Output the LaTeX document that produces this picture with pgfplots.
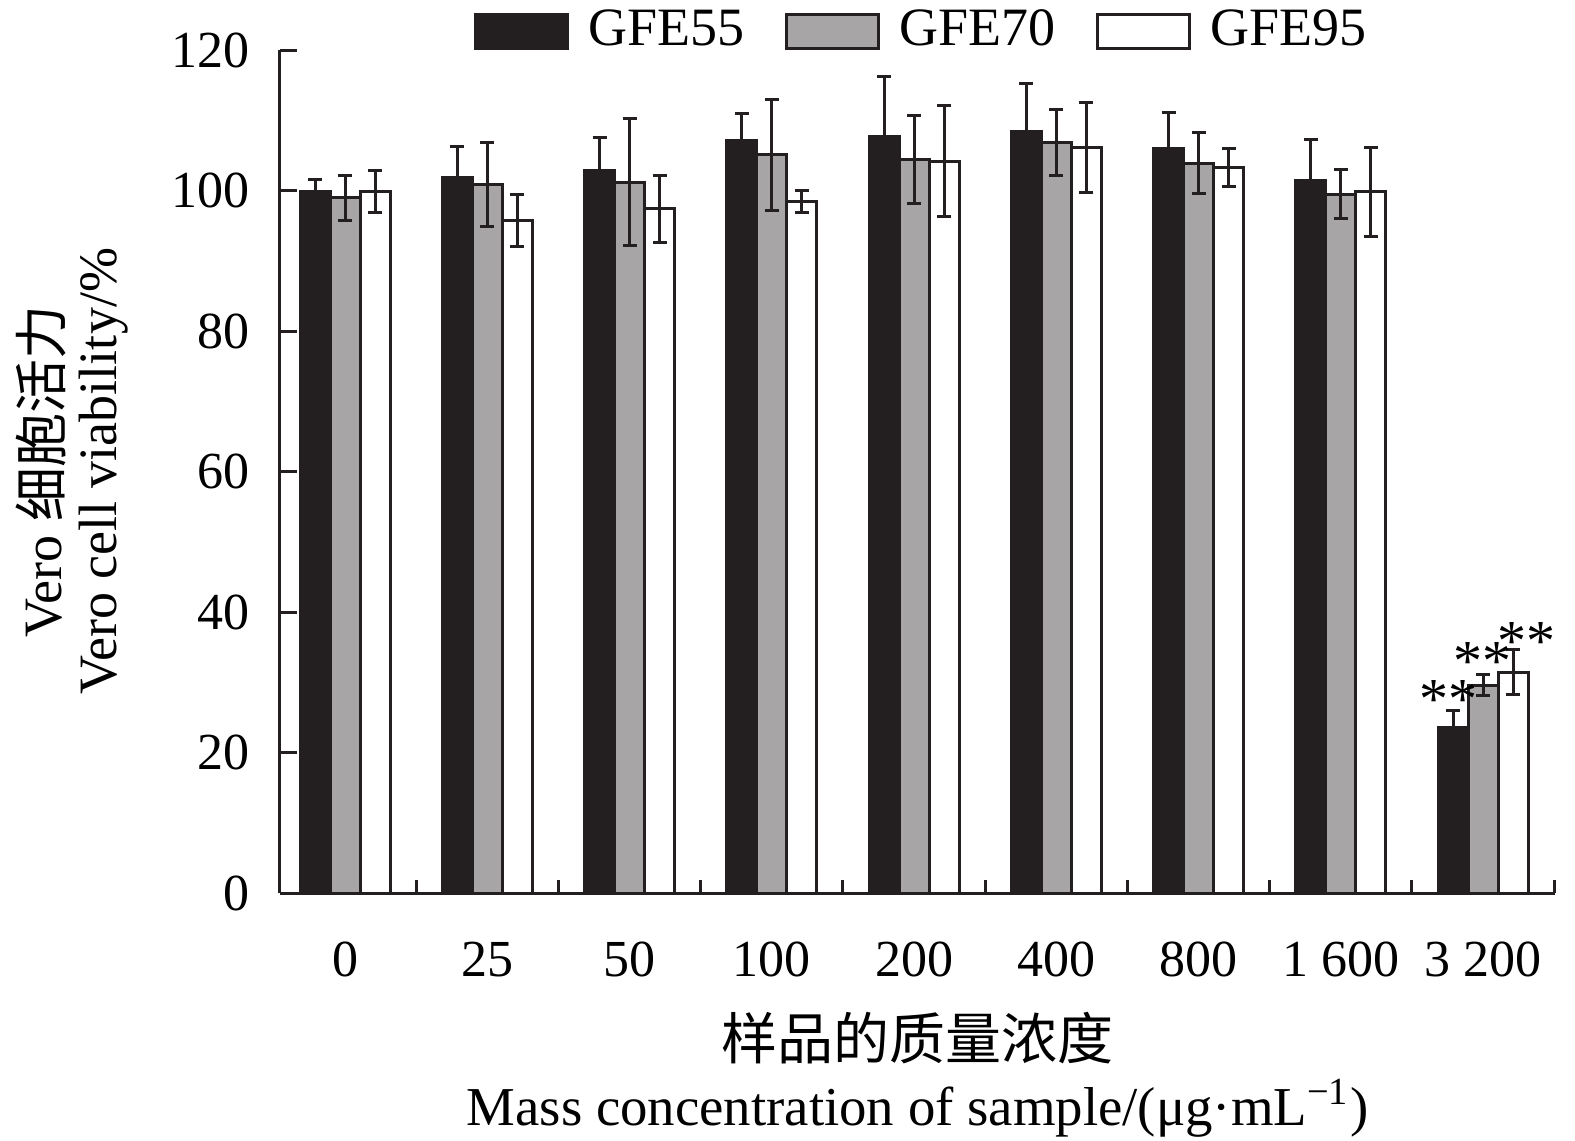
\documentclass[border=0pt]{standalone}
\usepackage{fontspec}
\setmainfont{Liberation Serif}
\newfontfamily\cjk{Noto Sans CJK SC}
\usepackage{pgfplots}
\pgfplotsset{compat=1.18}
\usepackage{pgfplotstable}
\definecolor{barblack}{HTML}{231F20}
\definecolor{bargray}{HTML}{A7A5A6}

\pgfplotstableread{
x y e
0 99.9 1.7
1 101.9 4.3
2 102.8 4.7
3 107.1 3.9
4 107.7 8.5
5 108.4 6.9
6 106.0 5.1
7 101.4 5.9
8 23.6 2.4
}\gfeA
\pgfplotstableread{
x y e
0 99.0 3.2
1 100.9 6.0
2 101.2 9.0
3 105.1 7.9
4 104.4 6.3
5 106.9 4.7
6 103.9 4.3
7 99.5 3.5
8 29.6 1.5
}\gfeB
\pgfplotstableread{
x y e
0 99.9 3.0
1 95.8 3.7
2 97.4 4.8
3 98.4 1.6
4 104.2 7.9
5 106.1 6.4
6 103.3 2.7
7 99.8 6.3
8 31.4 3.2
}\gfeC

\begin{document}
\begin{tikzpicture}
\pgfplotsset{
  mylegend/.style={legend image code/.code={\draw[##1,/tikz/.cd,line width=0.75pt] (0pt,-4.25pt) rectangle (23pt,4.25pt);}},
  myerr/.style={error bars/.cd, y dir=both, y explicit,
    error bar style={line width=0.75pt, barblack},
    error mark options={rotate=90, mark size=1.75pt, line width=0.75pt, barblack}},
}
\begin{axis}[
  at={(0,0)}, anchor=south west,
  width=318.75pt, height=210.75pt, scale only axis,
  xmin=-0.457, xmax=8.506, ymin=0, ymax=120,
  axis x line*=bottom, axis y line*=left,
  axis line style={-, line width=0.75pt, barblack},
  every outer x axis line/.append style={-},
  every outer y axis line/.append style={-},
  tick align=inside,
  ytick={0,20,...,120},
  major tick length=4.25pt,
  minor tick length=3.25pt,
  tick style={line width=0.75pt, barblack},
  xtick={0,1,2,3,4,5,6,7,8},
  xticklabels={0,25,50,100,200,400,800,1 600,3 200},
  major x tick style={draw=none},
  minor xtick={0.5,1.5,2.5,3.5,4.5,5.5,6.5,7.5,8.5},
  minor x tick style={draw=barblack, line width=0.75pt, yshift=3.25pt},
  /pgf/number format/assume math mode=true,
  tick label style={font=\fontsize{13}{15}\selectfont},
  xticklabel style={yshift=-4.5pt},
  yticklabel style={xshift=-4pt},
  ybar, bar width=7.5pt,
  xlabel={{\cjk\fontsize{14}{16}\selectfont 样品的质量浓度}\\Mass concentration of sample/(μg·mL\textsuperscript{−1})},
  xlabel style={at={(axis description cs:0.5,0)}, anchor=center, yshift=-45.5pt, align=center, font=\fontsize{13.7}{16.5}\selectfont},
  every axis y label/.style={at={(axis description cs:0,0.5)}, xshift=-52pt, rotate=90, anchor=center, align=center, font=\fontsize{13.5}{13.75}\selectfont},
  ylabel={Vero {\cjk 细胞活力}\\Vero cell viability/\%},
  legend columns=3,
  legend style={draw=none, fill=none, at={(axis description cs:0.5,1)}, anchor=center, xshift=1.75pt, yshift=4.75pt,
    font=\fontsize{13.5}{16}\selectfont,
    /tikz/every odd column/.append style={column sep=2.75pt},
    /tikz/every even column/.append style={column sep=8.25pt}},
]
\addplot[ybar, bar shift=-7.5pt, draw=barblack, fill=barblack, line width=0.75pt, mylegend, myerr] table[x=x, y=y, y error=e] {\gfeA};
\addplot[ybar, bar shift=0pt, draw=barblack, fill=bargray, line width=0.75pt, mylegend, myerr] table[x=x, y=y, y error=e] {\gfeB};
\addplot[ybar, bar shift=7.5pt, draw=barblack, fill=white, line width=0.75pt, mylegend, myerr] table[x=x, y=y, y error=e] {\gfeC};
\legend{GFE55,GFE70,GFE95}
\node[anchor=base, inner sep=0pt, font=\fontsize{14.5}{16}\selectfont] at (axis cs:7.755,24.9) {**};
\node[anchor=base, inner sep=0pt, font=\fontsize{14.5}{16}\selectfont] at (axis cs:7.995,30.2) {**};
\node[anchor=base, inner sep=0pt, font=\fontsize{14.5}{16}\selectfont] at (axis cs:8.305,33.1) {**};
\end{axis}
\pgfresetboundingbox
\useasboundingbox (-70pt,-61.75pt) rectangle (323.75pt,223.25pt);
\end{tikzpicture}
\end{document}
